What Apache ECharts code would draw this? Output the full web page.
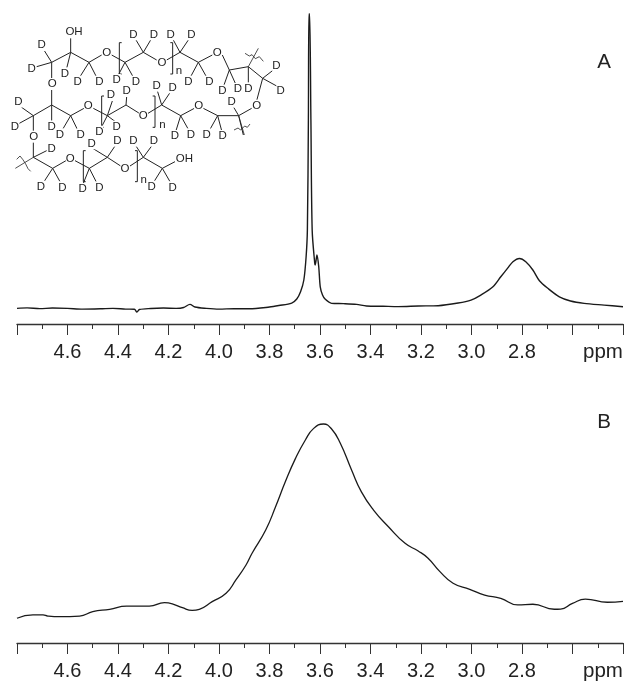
<!DOCTYPE html>
<html>
<head>
<meta charset="utf-8">
<style>html,body{margin:0;padding:0;background:#fff}#c{width:626px;height:681px}</style>
<script src="https://cdn.jsdelivr.net/npm/echarts@6/dist/echarts.min.js"></script>
</head>
<body>
<div id="c"></div>
<script>
var ppmA = [4.80,4.76,4.71,4.66,4.60,4.54,4.47,4.42,4.37,4.335,4.325,4.315,4.27,4.22,4.17,4.14,4.115,4.095,4.05,4.00,3.94,3.88,3.80,3.763,3.712,3.692,3.677,3.664,3.655,3.65,3.646,3.644,3.641,3.636,3.631,3.621,3.619,3.612,3.605,3.599,3.59,3.579,3.554,3.507,3.455,3.416,3.35,3.29,3.21,3.132,3.053,3.002,2.963,2.915,2.884,2.856,2.836,2.81,2.785,2.757,2.731,2.698,2.652,2.608,2.554,2.475,2.40];
var intensityA = [0.3,0.45,0.2,0.4,0.3,0.05,0.15,0.3,0.05,0,-0.95,-0.1,0.25,0.4,0.3,0.6,1.65,0.75,0.3,0.05,0.2,0.15,0.75,1.25,2.1,3.45,5.9,9.9,17.8,26.8,64,100,100,64,26.8,15.7,15,18.4,14.4,7.6,4.8,3.35,2,1.9,1.65,1.1,1.0,0.9,1.1,1.2,2.1,3.1,4.8,7.6,11,14,16.1,17.2,16.1,13.3,9.65,7.1,4.2,2.8,2,1.4,0.85];
var ppmB = [4.80,4.737,4.697,4.678,4.63,4.552,4.50,4.433,4.366,4.276,4.216,4.185,4.145,4.106,4.078,4.027,3.972,3.933,3.893,3.869,3.815,3.776,3.737,3.697,3.658,3.625,3.586,3.554,3.52,3.475,3.436,3.388,3.329,3.263,3.211,3.172,3.125,3.073,3.007,2.948,2.884,2.817,2.757,2.672,2.647,2.60,2.549,2.462,2.40];
var intensityB = [11.3,12.8,12.8,12.3,12,12.3,14.3,15.4,16.8,16.8,18.4,17.9,16.1,14.9,15.4,18.9,22.7,28.8,35.6,41,51.6,62.2,73.7,84.3,92.7,98,100,97.7,91.3,79,69,60.7,53.1,45.5,42,38.7,32.6,27.3,24.5,21.9,20.4,17.4,17.7,15.4,15.5,18.1,20,18.6,19];
var tickStep = 0.2;
var hiddenTicks = ['4.8','2.6','2.4'];

function zip(a,b){return a.map(function(v,i){return [v,b[i]];});}

// Structure drawing (sketch coordinates, 3 units per pixel)
var atoms = [
['OH',222,96],['D',125,135],['D',95,207],['D',195,220],['D',233,245],['D',298,245],['O',320,157],
['D',350,240],['D',408,245],['D',400,103],['D',462,103],['O',486,188],['n',537,213],['D',512,103],['D',574,103],
['D',565,245],['D',628,245],['O',652,157],['D',667,272],['D',714,267],['D',745,265],['D',829,198],['D',842,272],['O',770,317],
['O',157,252],['D',55,305],['D',45,380],['D',155,380],['D',180,403],['D',242,403],['O',265,317],
['D',333,285],['D',380,273],['D',298,395],['D',350,380],['O',430,348],['n',487,375],['D',470,257],['D',518,262],
['O',596,317],['D',525,408],['D',573,403],['D',620,403],['D',668,408],['D',695,305],
['O',101,410],['D',155,445],['O',211,475],['D',275,430],['D',352,422],['D',248,567],['D',298,562],['O',375,505],
['n',431,538],['D',400,422],['D',462,422],['OH',553,475],['D',123,560],['D',187,562],['D',455,560],['D',518,562]
];
var bonds = [
[155,187,212,157,267,187,305,165],[335,165,375,187,430,157,470,180],[500,180,540,157,595,187,637,165],
[667,165,688,210,745,200,788,235,770,302],[133,152,155,187],[110,200,155,187],[212,157,212,115],[212,157,200,205],
[267,187,240,230],[267,187,288,228],[375,187,355,225],[375,187,398,228],[430,157,408,120],[430,157,452,120],
[540,157,520,120],[540,157,565,120],[595,187,572,230],[595,187,618,228],[688,210,672,255],[688,210,706,250],
[745,200,745,250],[788,235,820,210],[788,235,830,258],
[155,187,155,238],[155,268,155,315],[155,315,100,347,100,395],[100,347,62,320],[100,347,58,370],[155,315,155,362],
[155,315,212,347,252,325],[212,347,188,388],[212,347,232,388],[280,325,322,347,378,315,418,340],
[322,347,338,300],[322,347,305,380],[378,315,380,290],[322,347,350,368],[444,340,485,315,542,347,583,325],
[485,315,472,272],[485,315,512,275],[542,347,528,392],[542,347,565,388],[610,325,653,347,716,347,755,325],
[653,347,630,388],[653,347,665,392],[716,347,700,320],[716,347,730,405],
[100,425,100,472,158,505,198,482],[100,472,140,452],[225,482,268,505,322,472,362,498],[268,505,250,550],[268,505,290,548],
[322,472,278,445],[322,472,345,438],[390,498,430,472,487,505,525,485],[430,472,408,438],[430,472,455,438],
[487,505,462,545],[487,505,510,545],[158,505,132,545],[158,505,180,545]
];
var brackets = [[358,128,222,1],[518,128,222,-1],[305,288,382,1],[465,288,382,-1],[250,452,545,1],[412,452,545,-1]];
var wavy = [[735,160,748,168,756,164,766,176,778,170,790,184],[775,145,745,200],
[702,390,714,384,722,390,734,378,742,382,750,372],[716,347,733,405],
[50,478,60,468,68,478,76,490,84,506,92,514],[46,505,100,472]];

var g = [];
var f = 'Liberation Sans, Arial, sans-serif';
atoms.forEach(function(a){
  g.push({type:'text',x:a[1]/3,y:a[2]/3,style:{text:a[0],fontFamily:f,fontSize:11.5,fill:'#222',backgroundColor:'#fff',align:'center',verticalAlign:'middle'},z:10});
});
function poly(arr,w){
  var p=[];for(var i=0;i<arr.length;i+=2)p.push([arr[i]/3,arr[i+1]/3]);
  g.push({type:'polyline',shape:{points:p},style:{stroke:'#222',lineWidth:w,fill:null},z:9});
}
bonds.forEach(function(b){poly(b,1);});
wavy.forEach(function(b){poly(b,0.8);});
brackets.forEach(function(b){poly([b[0]+b[3]*7,b[1],b[0],b[1],b[0],b[2],b[0]+b[3]*7,b[2]],1);});
g.push({type:'text',x:604,y:62,style:{text:'A',fontFamily:f,fontSize:20.5,fill:'#222',align:'center',verticalAlign:'middle'}});
g.push({type:'text',x:604,y:422,style:{text:'B',fontFamily:f,fontSize:20.5,fill:'#222',align:'center',verticalAlign:'middle'}});
g.push({type:'text',x:603,y:352,style:{text:'ppm',fontFamily:f,fontSize:20.5,fill:'#222',align:'center',verticalAlign:'middle'}});
g.push({type:'text',x:603,y:671,style:{text:'ppm',fontFamily:f,fontSize:20.5,fill:'#222',align:'center',verticalAlign:'middle'}});

function xAxis(idx){
  return {type:'value',gridIndex:idx,inverse:true,min:2.4,max:4.8,interval:tickStep,position:'bottom',
    splitLine:{show:false},
    axisLine:{show:true,onZero:false,lineStyle:{color:'#333',width:1.4}},
    axisTick:{show:true,length:11,lineStyle:{color:'#333',width:1}},
    minorTick:{show:true,splitNumber:2,length:5,lineStyle:{color:'#333',width:1}},
    axisLabel:{show:true,margin:18,fontFamily:f,fontSize:20,color:'#222',hideOverlap:false,
      formatter:function(v){var s=v.toFixed(1);return hiddenTicks.indexOf(s)>=0?'':s;}}};
}
var chart = echarts.init(document.getElementById('c'),null,{renderer:'canvas'});
chart.setOption({
  animation:false,backgroundColor:'#fff',
  grid:[{left:17,width:608.6,top:14,height:310},{left:17,width:608.6,top:424,height:219}],
  xAxis:[xAxis(0),xAxis(1)],
  yAxis:[{type:'value',gridIndex:0,min:-5,max:100,show:false},{type:'value',gridIndex:1,min:0,max:100,show:false}],
  series:[
    {type:'line',xAxisIndex:0,yAxisIndex:0,data:zip(ppmA,intensityA),showSymbol:false,clip:false,smooth:0.3,lineStyle:{color:'#1a1a1a',width:1.4}},
    {type:'line',xAxisIndex:1,yAxisIndex:1,data:zip(ppmB,intensityB),showSymbol:false,clip:false,smooth:0.5,lineStyle:{color:'#1a1a1a',width:1.3}}
  ],
  graphic:g
});
</script>
</body>
</html>
